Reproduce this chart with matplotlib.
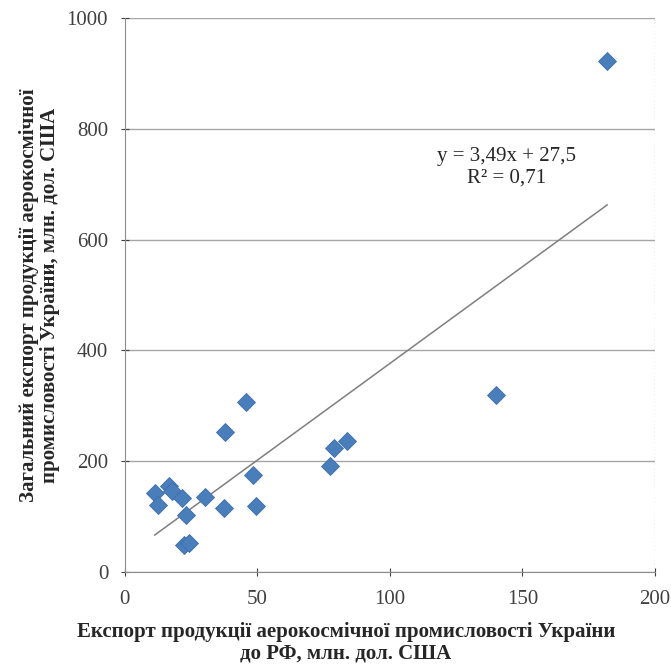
import matplotlib.pyplot as plt
import numpy as np

# Експорт до РФ (x) та загальний експорт (y), млн. дол. США
x_rf = [182, 140, 45.9, 37.7, 83.7, 78.9, 77.6, 48.4, 49.4, 37.4,
        30.2, 23.0, 22.3, 24.2, 11.3, 12.6, 16.7, 17.8, 21.4]
y_total = [922, 319, 307, 252, 237, 224, 192, 175, 120, 115,
           136, 103, 48, 53, 143, 121, 155, 147, 133]

# Коефіцієнти лінійного тренду
slope = 3.49
intercept = 27.5
r2 = 0.71

x_ticks = [0, 50, 100, 150, 200]
y_ticks = [0, 200, 400, 600, 800, 1000]

plt.rcParams['font.family'] = ['Liberation Serif', 'DejaVu Serif']

fig = plt.figure(figsize=(6.71, 6.66), dpi=100)
ax = fig.add_axes([0.186, 0.141, 0.79, 0.832])

# Сітка
ax.set_axisbelow(True)
ax.grid(axis='y', color='#a6a6a6', linewidth=1)

# Точки
ax.plot(x_rf, y_total, 'D', color='#4a7ebb', markersize=9,
        markeredgecolor='#3c6eab', markeredgewidth=0.6, zorder=3)

# Лінія тренду
tx = np.array([min(x_rf), max(x_rf)])
ax.plot(tx, slope * tx + intercept, color='#7f7f7f', linewidth=1.1, zorder=2)

eq = 'y = ' + str(slope).replace('.', ',') + 'x + ' + str(intercept).replace('.', ',')
ax.text(144, 730, eq + '\nR² = ' + str(r2).replace('.', ','), ha='center', va='center',
        fontsize=15, color='#262626', linespacing=1.2)

ax.set_xlim(0, 200)
ax.set_ylim(0, 1000)
ax.set_xticks(x_ticks)
ax.set_yticks(y_ticks)
ax.tick_params(labelsize=15, colors='#404040', direction='inout', length=6,
               width=0.8)
ax.tick_params(axis='x', pad=10)
ax.tick_params(axis='y', pad=9)
for side in ['top', 'right']:
    ax.spines[side].set_visible(False)
ax.spines['left'].set_color('#8c8c8c')
ax.spines['bottom'].set_color('#8c8c8c')
ax.axvline(200, color='#bfbfbf', linewidth=1, linestyle=':')

ax.set_xlabel('Експорт продукції аерокосмічної промисловості України\nдо РФ, млн. дол. США',
              fontsize=15, fontweight='bold', color='#262626', labelpad=9,
              linespacing=1.15)
ax.xaxis.label.set_x(0.417)
ax.set_ylabel('Загальний експорт продукції аерокосмічної\nпромисловості України, млн. дол. США',
              fontsize=15, fontweight='bold', color='#262626', labelpad=5,
              linespacing=1.05)

fig.savefig('out.png', dpi=100)
